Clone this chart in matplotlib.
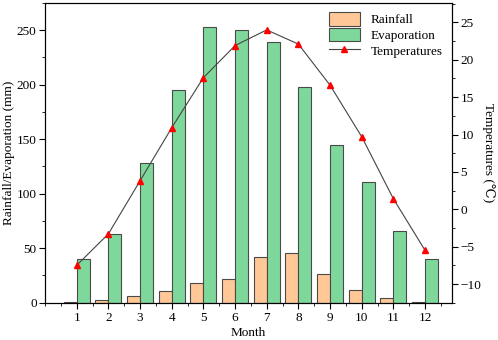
import numpy as np
import matplotlib
matplotlib.use("Agg")
import matplotlib.pyplot as plt
from matplotlib.ticker import MultipleLocator

plt.rcParams['font.family'] = ['Liberation Serif', 'DejaVu Serif']

months = np.arange(1, 13)
rainfall = [1, 2.5, 6, 10.7, 18, 21.5, 41.7, 46, 26, 12, 4, 0.5]
evaporation = [40, 63, 128, 195, 253, 250, 239, 198, 145, 111, 66, 40]
temperatures = [-7.5, -3.3, 3.8, 10.9, 17.6, 21.9, 24.0, 22.1, 16.6, 9.7, 1.4, -5.5]

fs = 9.5
fig = plt.figure(figsize=(4.98, 3.40), dpi=100)
ax = fig.add_axes([45/498, 1 - 302.7/340, (452 - 45)/498, (302.7 - 3)/340])

w = 0.41
ax.bar(months - w/2, rainfall, width=w, color='#FFC896', edgecolor='#4a4a4a', linewidth=0.8, label='Rainfall')
ax.bar(months + w/2, evaporation, width=w, color='#7ED89B', edgecolor='#4a4a4a', linewidth=0.8, label='Evaporation')
ax.set_xlim(0, 12.85)
ax.set_ylim(0, 275)
ax.set_xticks(months)
ax.xaxis.set_minor_locator(MultipleLocator(0.5))
ax.yaxis.set_minor_locator(MultipleLocator(25))
ax.set_xlabel('Month', fontsize=fs, labelpad=1.5)
ax.set_ylabel('Rainfall/Evaporation (mm)', fontsize=fs, labelpad=1)
ax.tick_params(which='both', direction='out', labelsize=fs, pad=2)
ax.tick_params(axis='x', pad=3)
ax.tick_params(which='major', length=4)
ax.tick_params(which='minor', length=2)

ax2 = ax.twinx()
ax2.plot(months, temperatures, color='#444444', linewidth=0.8, marker='^', markersize=5,
         markerfacecolor='red', markeredgecolor='red', label='Temperatures')
ax2.set_ylim(-12.5, 27.6)
ax2.yaxis.set_major_locator(MultipleLocator(5))
ax2.yaxis.set_minor_locator(MultipleLocator(2.5))
ax2.set_ylabel('Temperatures (\u2103)', fontsize=fs, rotation=270, labelpad=10)
ax2.tick_params(which='both', direction='out', labelsize=fs, pad=2)
ax2.tick_params(which='major', length=4)
ax2.tick_params(which='minor', length=2)

h1, l1 = ax.get_legend_handles_labels()
h2, l2 = ax2.get_legend_handles_labels()
ax2.legend(h1 + h2, l1 + l2, loc='upper right', frameon=False, fontsize=fs,
           handlelength=2.4, handleheight=1.2, borderaxespad=0.3, labelspacing=0.1)

fig.savefig('out.png', dpi=100)
